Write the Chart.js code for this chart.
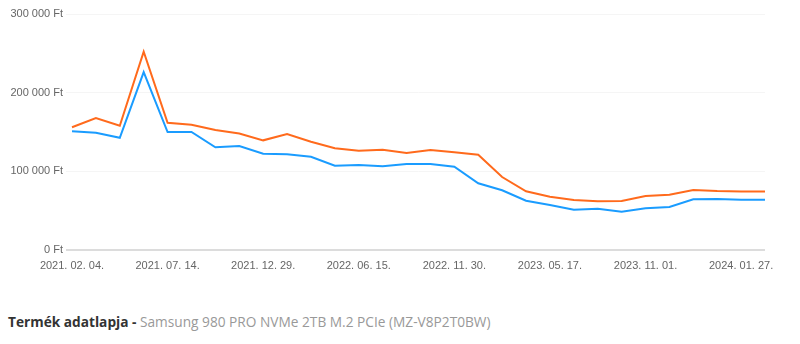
<!DOCTYPE html>
<html lang="hu">
<head>
<meta charset="utf-8">
<title>Samsung 980 PRO NVMe 2TB M.2 PCIe – ártörténet</title>
<script src="https://cdn.jsdelivr.net/npm/chart.js@4.4.1/dist/chart.umd.min.js"></script>
<style>
  html, body { margin: 0; padding: 0; background: #fff; }
  #wrap { position: relative; width: 800px; height: 290px; }
  #info {
    position: absolute; left: 8px; top: 312px;
    font-family: "Open Sans", "Noto Sans", sans-serif; font-size: 13.7px;
    color: #999; white-space: nowrap;
  }
  #info b { color: #333; font-weight: 700; }
</style>
</head>
<body>
<div id="wrap"><canvas id="chart" width="800" height="290"></canvas></div>
<div id="info"><b>Termék adatlapja -</b> Samsung 980 PRO NVMe 2TB M.2 PCIe (MZ-V8P2T0BW)</div>
<script>
// Sampling dates of the price history
const dates = [
  '2021. 02. 04.', '2021. 03. 10.', '2021. 04. 21.', '2021. 06. 02.',
  '2021. 07. 14.', '2021. 08. 25.', '2021. 10. 06.', '2021. 11. 17.',
  '2021. 12. 29.', '2022. 02. 09.', '2022. 03. 23.', '2022. 05. 04.',
  '2022. 06. 15.', '2022. 07. 27.', '2022. 09. 07.', '2022. 10. 19.',
  '2022. 11. 30.', '2023. 01. 11.', '2023. 02. 22.', '2023. 04. 05.',
  '2023. 05. 17.', '2023. 06. 28.', '2023. 08. 09.', '2023. 09. 20.',
  '2023. 11. 01.', '2023. 11. 23.', '2023. 12. 14.', '2024. 01. 05.',
  '2024. 01. 27.', '2024. 02. 18.'
];

// Average price (Ft)
const avgPrice = [
  156000, 167800, 158000, 252000, 161800, 159300, 152500, 148100,
  139400, 147400, 137600, 129300, 126200, 127500, 123300, 127100,
  124200, 121100, 92800, 74600, 67700, 63600, 61900, 62300,
  68600, 70300, 76300, 75000, 74500, 74500
];

// Lowest price (Ft)
const minPrice = [
  150900, 149100, 142700, 226200, 150000, 150000, 130500, 132200,
  122400, 121600, 118600, 107100, 108000, 106400, 109300, 109300,
  105900, 84800, 75900, 62700, 57200, 51200, 52500, 48700,
  53000, 54700, 64400, 64800, 63900, 63900
];

// Value axis ticks
const yTicks = [0, 100000, 200000, 300000];

const fmtFt = v => String(v).replace(/\B(?=(\d{3})+(?!\d))/g, ' ') + ' Ft';

new Chart(document.getElementById('chart'), {
  type: 'line',
  data: {
    labels: dates,
    datasets: [
      {
        label: 'Átlagár',
        data: avgPrice,
        borderColor: '#ff6a1c',
        backgroundColor: '#ff6a1c',
        borderWidth: 2,
        pointRadius: 0,
        tension: 0,
        fill: false
      },
      {
        label: 'Legalacsonyabb ár',
        data: minPrice,
        borderColor: '#1a9cff',
        backgroundColor: '#1a9cff',
        borderWidth: 2,
        pointRadius: 0,
        tension: 0,
        fill: false
      }
    ]
  },
  options: {
    responsive: false,
    animation: false,
    layout: { padding: { top: 14, right: 35, left: 0, bottom: 0 } },
    plugins: {
      legend: { display: false },
      tooltip: { enabled: true, callbacks: { label: c => c.dataset.label + ': ' + fmtFt(c.parsed.y) } }
    },
    scales: {
      x: {
        offset: false,
        grid: { display: false, drawTicks: false },
        border: { display: false },
        afterFit: s => { s.height = 40; },
        ticks: {
          autoSkip: false,
          maxRotation: 0,
          padding: 9,
          color: '#666',
          font: { family: 'Liberation Sans, Arial, sans-serif', size: 11 },
          callback: (v, i) => (i % 4 === 0 ? dates[i] : null)
        }
      },
      y: {
        min: 0,
        max: 300000,
        afterFit: s => { s.width = 72; },
        afterBuildTicks: s => { s.ticks = yTicks.map(v => ({ value: v })); },
        grid: {
          color: c => (c.tick && c.tick.value === 0 ? '#dcdcdc' : '#f5f5f5'),
          lineWidth: c => (c.tick && c.tick.value === 0 ? 2 : 1),
          tickLength: 6
        },
        border: { display: false },
        ticks: {
          padding: 3,
          color: '#666',
          font: { family: 'Liberation Sans, Arial, sans-serif', size: 11 },
          callback: v => fmtFt(v)
        }
      }
    }
  }
});
</script>
</body>
</html>
